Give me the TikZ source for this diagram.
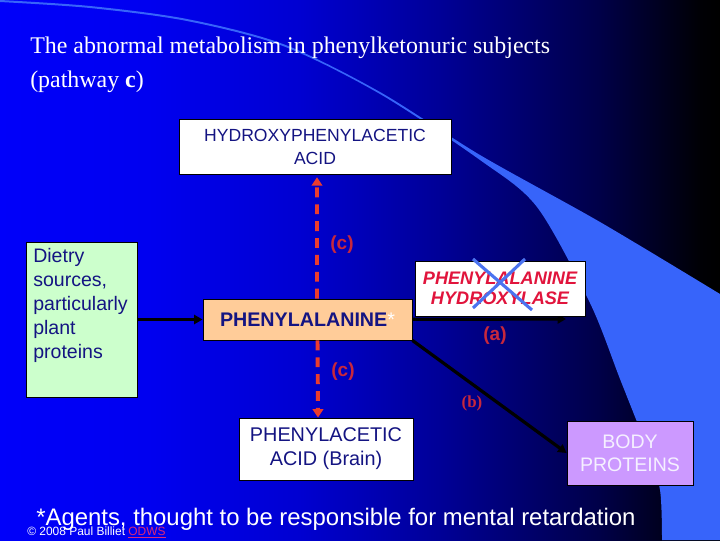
\documentclass[tikz,border=0pt]{standalone}
\usepackage{fontspec}
\setmainfont{Liberation Sans}
\newfontfamily\serifface{Liberation Serif}
\usetikzlibrary{arrows.meta}

\definecolor{navytext}{RGB}{20,20,130}
\definecolor{dietgreen}{RGB}{204,255,204}
\definecolor{phepeach}{RGB}{255,204,153}
\definecolor{bodylilac}{RGB}{204,153,255}
\definecolor{bodytext}{RGB}{245,240,255}
\definecolor{enzred}{RGB}{225,20,60}
\definecolor{labred}{RGB}{200,40,60}
\definecolor{dashred}{RGB}{235,60,45}
\definecolor{bandblue}{RGB}{55,100,250}
\definecolor{crossblue}{RGB}{75,115,240}
\definecolor{odwspink}{RGB}{220,40,120}

% slide background: bright blue on the left, black on the right
\pgfdeclarehorizontalshading{slidebg}{100bp}{%
  rgb(0bp)=(0,0,0.98); rgb(25bp)=(0,0,0.98); rgb(35.4bp)=(0,0,0.94);
  rgb(45.8bp)=(0,0,0.82); rgb(55.6bp)=(0,0,0.59); rgb(66.7bp)=(0,0,0.28);
  rgb(73.6bp)=(0,0,0.02); rgb(75bp)=(0,0,0); rgb(100bp)=(0,0,0)}

\begin{document}
\begin{tikzpicture}[
  x=0.025cm, y=-0.025cm,
  box/.style      = {draw=black, line width=0.6pt, inner sep=2pt, align=center,
                     text=navytext},
  title/.style    = {anchor=base west, inner sep=0pt, text=white, align=left,
                     font=\serifface\fontsize{17}{24}\selectfont},
                       % base of a two-line node is the last line: place by "(pathway c)"
  dtext/.style    = {anchor=base west, inner sep=0pt, align=left, text=navytext,
                     font=\fontsize{13.9}{17}\selectfont},
  flow/.style     = {line width=2.3pt, black, -{Triangle[length=6pt,width=6.5pt]}},
  dashflow/.style = {line width=2.8pt, dashred, dash pattern=on 7pt off 5pt,
                     -{Triangle[length=6pt,width=7.5pt]}},
  lab/.style      = {inner sep=0pt, text=labred,
                     font=\bfseries\fontsize{13.5}{15}\selectfont},
  cross/.style    = {line width=2.2pt, crossblue},
  foot/.style     = {anchor=base west, inner sep=0pt, text=white,
                     font=\fontsize{17}{20}\selectfont},
  credit/.style   = {anchor=base west, inner sep=0pt, text=white,
                     font=\fontsize{8.5}{10}\selectfont},
]

  \shade[shading=slidebg] (0,0) rectangle (720,540);
  % the light band sweeping down the right side
  \fill[bandblue] plot[smooth] coordinates {(0,0) (90,6) (187,19) (283,44) (380,92)
      (480,155) (600,222) (720,294)}
    -- (720,540)
    -- plot[smooth] coordinates {(662,540) (660,490) (647,448) (620,379) (590,303)
      (537,207) (480,160) (380,94) (283,46) (187,21) (90,8) (0,2)} -- cycle;
  \useasboundingbox (0,0) rectangle (720,540);

  \node[title] (title) at (30,87) {The abnormal metabolism in phenylketonuric subjects\\(pathway \textbf{c})};

  \node[box, fill=white, minimum width=6.8cm, minimum height=1.375cm,
        font=\fontsize{12.5}{16.3}\selectfont] (hpa) at (315,146.5) {HYDROXYPHENYLACETIC\\ACID};
  \node[box, fill=dietgreen, minimum width=2.775cm, minimum height=3.875cm] (diet) at (81.5,319.5) {};
  \node[dtext] (dlist) at (33,358) {Dietry\\sources,\\particularly\\plant\\proteins};
  \node[box, fill=phepeach, minimum width=5.225cm, minimum height=1.025cm,
        font=\bfseries\fontsize{14}{17}\selectfont] (phe) at (307.5,319.5)
        {PHENYLALANINE\textcolor{white}{\mdseries*}};

  % pathway (a) runs under the blocked enzyme
  \coordinate (aend) at (566,319);
  \draw[flow] (phe) -- (aend);
  \node[box, fill=white, minimum width=4.25cm, minimum height=1.375cm, text=enzred,
        font=\bfseries\itshape\fontsize{12.9}{14.2}\selectfont] (hyd) at (500,288.5)
        {PHENYLALANINE\\HYDROXYLASE};
  \draw[cross] (473,259) -- (532,310);
  \draw[cross] (525,259) -- (473,308);

  \node[box, fill=white, minimum width=4.35cm, minimum height=1.55cm,
        font=\fontsize{14.1}{17}\selectfont] (pac) at (326,449) {PHENYLACETIC\\ACID (Brain)};
  \node[box, fill=bodylilac, text=bodytext, minimum width=3.15cm, minimum height=1.6cm,
        font=\fontsize{13.9}{16.3}\selectfont] (body) at (630,453) {BODY\\PROTEINS};

  \draw[flow] (diet) -- (phe);
  \draw[flow] (phe.south east) -- (body.west);
  \draw[dashflow, shorten >=2pt] ([shift={(9.5,0)}]phe.north) -- ([shift={(2,0)}]hpa.south);
  \draw[dashflow] ([shift={(10,0)}]phe.south) -- ([shift={(-8,0)}]pac.north);

  \node[lab] (lc1) at (342,245) {(c)};
  \node[lab] (lc2) at (343,372) {(c)};
  \node[lab] (la) at (495,336) {(a)};
  \node[lab, font=\serifface\bfseries\fontsize{12}{14}\selectfont] (lb) at (472,403) {(b)};

  \node[foot] (note) at (36,525) {*Agents, thought to be responsible for mental retardation};
  \node[credit] (cred) at (27,535) {© 2008 Paul Billiet \textcolor{odwspink}{\underline{ODWS}}};
\end{tikzpicture}
\end{document}
